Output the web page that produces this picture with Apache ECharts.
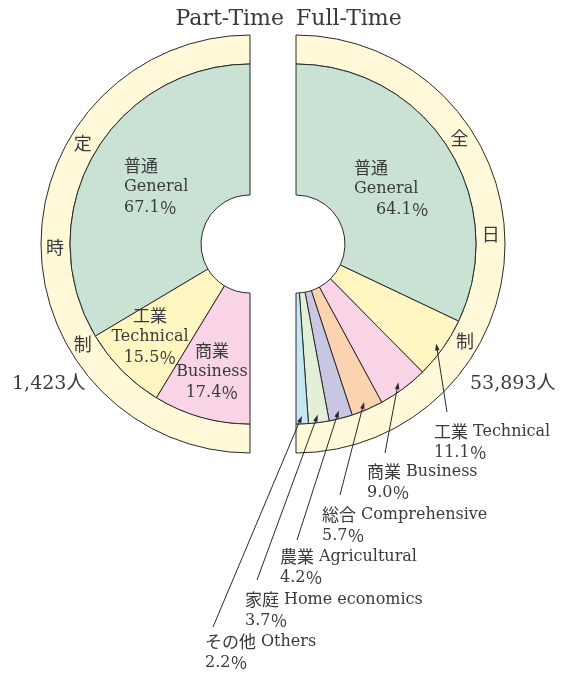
<!DOCTYPE html>
<html><head><meta charset="utf-8">
<script src="https://cdn.jsdelivr.net/npm/echarts@6/dist/echarts.min.js"></script>
<style>html,body{margin:0;padding:0;background:#fff}#c{width:576px;height:673px}</style>
</head><body><div id="c"></div>
<script>
// ---- data ----
const seriesNames = ['Part-Time', 'Full-Time'];
const ringNamesLeft = ['定', '時', '制'];
const ringNamesRight = ['全', '日', '制'];
const partTimeJP = ['普通', '工業', '商業'];
const partTimeEN = ['General', 'Technical', 'Business'];
const partTimeValues = [67.1, 15.5, 17.4];
const fullTimeJP = ['普通', '工業', '商業', '総合', '農業', '家庭', 'その他'];
const fullTimeEN = ['General', 'Technical', 'Business', 'Comprehensive', 'Agricultural', 'Home economics', 'Others'];
const fullTimeValues = [64.1, 11.1, 9.0, 5.7, 4.2, 3.7, 2.2];
const partTimeTotal = '1,423人';
const fullTimeTotal = '53,893人';

// ---- styles / layout ----
const colorMap = {
  'General': '#c9e2d3', 'Technical': '#fff6c2', 'Business': '#f9d4e6',
  'Comprehensive': '#fcd3b0', 'Agricultural': '#c9c6e3', 'Home economics': '#e3f0d8', 'Others': '#c5e6f5'
};
const RING = '#fff9d9', EDGE = '#2a2a2a', TXT = '#3a3a3a';
const CY = 244, CXL = 250, CXR = 296, R0 = 49, R1 = 180, R2 = 209, TIP_R = 172;
const SERIF = "'DejaVu Serif', 'Noto Sans CJK JP', serif";
const JPF = "'Noto Sans CJK JP', sans-serif";
const rich = {
  jp: { fontFamily: JPF, fontSize: 17, lineHeight: 21, color: TXT },
  en: { fontFamily: SERIF, fontSize: 16, lineHeight: 21, color: TXT },
  en2: { fontFamily: SERIF, fontSize: 16, lineHeight: 21, color: TXT, padding: [0, 0, 0, 5] },
  num: { fontFamily: SERIF, fontSize: 16, lineHeight: 21, color: TXT },
  pc: { fontFamily: JPF, fontSize: 17, lineHeight: 21, color: TXT },
  num2: { fontFamily: SERIF, fontSize: 16, lineHeight: 21, color: TXT, padding: [0, 0, 0, 22] }
};
// inner label anchors [x, yMiddle, align]
const leftInnerPos = [[124, 187, 'left'], [150, 337, 'center'], [212, 372, 'center']];
const rightInnerPos = [354, 189, 'left'];
// outer label top-left and leader-line end offsets (right half, index 1..6)
const outerLabelPos = [null, [434, 421], [367, 461], [322, 504], [280, 546], [245, 589], [205, 631]];
const lineEndOffset = [null, [13, -9], [18, -8], [18, -9], [17, -6], [12, -9], [8, -4]];

function pctRich(v, numStyle) { return `{${numStyle}|${v.toFixed(1)}}{pc|％}`; }

// tip point of a right-half slice (from data, same angle convention as the pie: top, clockwise over 180°)
function rightTip(i) {
  const total = fullTimeValues.reduce((a, b) => a + b, 0);
  let cum = 0;
  for (let k = 0; k < i; k++) cum += fullTimeValues[k];
  const mid = (cum + fullTimeValues[i] / 2) / total * Math.PI;
  return [CXR + TIP_R * Math.sin(mid), CY - TIP_R * Math.cos(mid)];
}

const leftData = partTimeValues.map((v, i) => ({
  value: v, name: partTimeEN[i],
  itemStyle: { color: colorMap[partTimeEN[i]] },
  label: { show: true, position: 'inside', formatter: `{jp|${partTimeJP[i]}}\n{en|${partTimeEN[i]}}\n${pctRich(v, 'num')}` }
}));
const rightData = fullTimeValues.map((v, i) => ({
  value: v, name: fullTimeEN[i],
  itemStyle: { color: colorMap[fullTimeEN[i]] },
  label: i === 0
    ? { show: true, position: 'inside', formatter: `{jp|${fullTimeJP[i]}}\n{en|${fullTimeEN[i]}}\n${pctRich(v, 'num2')}` }
    : { show: true, position: 'outside', formatter: `{jp|${fullTimeJP[i]}}{en2|${fullTimeEN[i]}}\n${pctRich(v, 'num')}` },
  labelLine: { show: false }
}));

// leader lines with arrowheads (drawn on top of the rings)
const leaders = [];
for (let i = 1; i < fullTimeValues.length; i++) {
  const tip = rightTip(i);
  const end = [outerLabelPos[i][0] + lineEndOffset[i][0], outerLabelPos[i][1] + lineEndOffset[i][1]];
  const dx = tip[0] - end[0], dy = tip[1] - end[1], L = Math.hypot(dx, dy);
  const ux = dx / L, uy = dy / L, nx = -uy, ny = ux;
  leaders.push({
    type: 'polyline', silent: true, z: 100,
    shape: { points: [end, [tip[0] - 4 * ux, tip[1] - 4 * uy]] },
    style: { stroke: EDGE, lineWidth: 1, fill: null }
  });
  leaders.push({
    type: 'polygon', silent: true, z: 100,
    shape: { points: [tip, [tip[0] - 7 * ux + 2.3 * nx, tip[1] - 7 * uy + 2.3 * ny], [tip[0] - 7 * ux - 2.3 * nx, tip[1] - 7 * uy - 2.3 * ny]] },
    style: { fill: EDGE }
  });
}

function ringText(cx, deg, ch) {
  const a = deg * Math.PI / 180, r = 195;
  return { type: 'text', silent: true, z: 100, x: cx + r * Math.cos(a), y: CY - r * Math.sin(a),
    style: { text: ch, font: `18px ${JPF}`, fill: TXT, align: 'center', verticalAlign: 'middle' } };
}

const common = {
  type: 'pie', avoidLabelOverlap: false, animation: false, silent: true,
  emphasis: { disabled: true },
  itemStyle: { borderColor: EDGE, borderWidth: 1 }
};

const option = {
  backgroundColor: '#fff',
  series: [
    Object.assign({}, common, {
      name: seriesNames[0] + ' ring', center: [CXL, CY], radius: [R1, R2],
      startAngle: 90, endAngle: 270, clockwise: false,
      label: { show: false }, labelLine: { show: false },
      data: [{ value: 1, name: '定時制', itemStyle: { color: RING } }]
    }),
    Object.assign({}, common, {
      name: seriesNames[1] + ' ring', center: [CXR, CY], radius: [R1, R2],
      startAngle: 90, endAngle: -90, clockwise: true,
      label: { show: false }, labelLine: { show: false },
      data: [{ value: 1, name: '全日制', itemStyle: { color: RING } }]
    }),
    Object.assign({}, common, {
      name: seriesNames[0], center: [CXL, CY], radius: [R0, R1],
      startAngle: 90, endAngle: 270, clockwise: false,
      label: { rich: rich, color: TXT },
      labelLayout: function (p) {
        const pos = leftInnerPos[p.dataIndex];
        return { x: pos[0], y: pos[1], align: pos[2], verticalAlign: 'middle' };
      },
      data: leftData
    }),
    Object.assign({}, common, {
      name: seriesNames[1], center: [CXR, CY], radius: [R0, R1],
      startAngle: 90, endAngle: -90, clockwise: true,
      label: { rich: rich, color: TXT },
      labelLayout: function (p) {
        const i = p.dataIndex;
        if (i === 0) return { x: rightInnerPos[0], y: rightInnerPos[1], align: rightInnerPos[2], verticalAlign: 'middle' };
        return { x: outerLabelPos[i][0], y: outerLabelPos[i][1], align: 'left', verticalAlign: 'top' };
      },
      data: rightData
    })
  ],
  graphic: [
    { type: 'text', silent: true, x: 284, y: 19, style: { text: seriesNames[0], font: `22px ${SERIF}`, fill: TXT, align: 'right', verticalAlign: 'middle' } },
    { type: 'text', silent: true, x: 296, y: 19, style: { text: seriesNames[1], font: `22px ${SERIF}`, fill: TXT, align: 'left', verticalAlign: 'middle' } },
    ringText(CXL, 149, ringNamesLeft[0]), ringText(CXL, 181, ringNamesLeft[1]), ringText(CXL, 211, ringNamesLeft[2]),
    ringText(CXR, 33, ringNamesRight[0]), ringText(CXR, 3, ringNamesRight[1]), ringText(CXR, -30, ringNamesRight[2]),
    { type: 'text', silent: true, x: 12, y: 384, style: { text: partTimeTotal, font: `19px ${SERIF}`, fill: TXT, align: 'left', verticalAlign: 'middle' } },
    { type: 'text', silent: true, x: 470, y: 384, style: { text: fullTimeTotal, font: `19px ${SERIF}`, fill: TXT, align: 'left', verticalAlign: 'middle' } }
  ].concat(leaders)
};

const chart = echarts.init(document.getElementById('c'), null, { renderer: 'canvas' });
chart.setOption(option);
</script>
</body></html>
